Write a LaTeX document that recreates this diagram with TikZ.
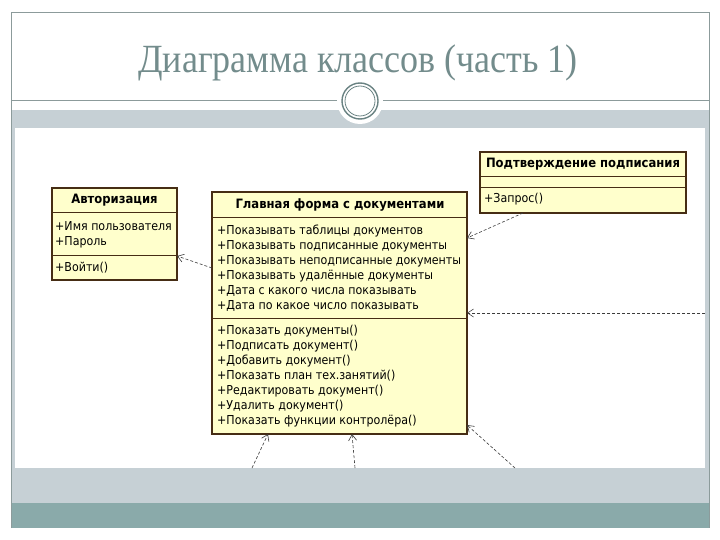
\documentclass[tikz,border=0pt]{standalone}
\usepackage{fontspec}
\setmainfont{DejaVu Sans Condensed}
\newfontfamily\titlefont{Liberation Serif}
\usetikzlibrary{arrows.meta}
\definecolor{clsfill}{RGB}{255,255,204}
\definecolor{clsline}{RGB}{70,45,20}
\definecolor{bandgray}{RGB}{198,208,213}
\definecolor{bandteal}{RGB}{138,170,170}
\definecolor{framec}{RGB}{140,155,155}
\definecolor{titlec}{RGB}{115,140,140}
\definecolor{ornc}{RGB}{105,130,130}
\definecolor{depc}{RGB}{60,60,60}
\begin{document}
\begin{tikzpicture}[x=1pt,y=-1pt,
  cls/.style={draw=clsline,fill=clsfill,line width=1.1pt,rectangle,inner sep=0pt,outer sep=0pt,anchor=north west},
  sep/.style={draw=clsline,line width=0.9pt},
  hdr/.style={font=\fontsize{12.9}{14}\selectfont\bfseries,inner sep=0pt,text height=9pt,text depth=2.5pt},
  mem/.style={font=\fontsize{12.3}{14}\selectfont,inner sep=0pt,anchor=west,text height=8.5pt,text depth=2.5pt},
  dep/.style={draw=depc,line width=0.6pt,dash pattern=on 3pt off 2pt,-{Straight Barb[length=6pt,width=8pt]}}
]
\useasboundingbox (0,0) rectangle (720,540);
\fill[white] (0,0) rectangle (720,540);
% slide background
\fill[bandgray] (11,110) rectangle (709,503);
\fill[bandteal] (11,503) rectangle (709,528);
\fill[white] (15,128) rectangle (705,468);
\draw[framec,line width=0.8pt] (11,528) -- (11,12) -- (709,12) -- (709,528);
\draw[framec,line width=0.8pt] (11,100) -- (709,100);
% title
\node[font=\titlefont\fontsize{40}{44}\selectfont,text=titlec,inner sep=0pt,anchor=base] (title) at (358,73) {\scalebox{0.9}[1]{Диаграмма классов (часть 1)}};
% ornament
\node[circle,fill=white,minimum size=46pt,inner sep=0pt] (orn) at (360,101) {};
\draw[ornc,line width=1.4pt] (orn.center) circle (18pt);
\draw[ornc,line width=0.8pt] (orn.center) circle (15pt);

% class: Авторизация
\node[cls,minimum width=125pt,minimum height=92pt] (auth) at (52,188) {};
\draw[sep] ([yshift=-24pt]auth.north west) -- ([yshift=-24pt]auth.north east);
\draw[sep] ([yshift=-67pt]auth.north west) -- ([yshift=-67pt]auth.north east);
\node[hdr] (authh) at (114.5,200) {Авторизация};
\node[mem] (a1) at (55,227) {+Имя пользователя};
\node[mem] (a2) at (55,242) {+Пароль};
\node[mem] (a3) at (55,268) {+Войти()};

% class: Главная форма
\node[cls,minimum width=255pt,minimum height=242pt] (main) at (212,192) {};
\draw[sep] ([yshift=-25pt]main.north west) -- ([yshift=-25pt]main.north east);
\draw[sep] ([yshift=-126pt]main.north west) -- ([yshift=-126pt]main.north east);
\node[hdr] (mainh) at (340,205) {Главная форма с документами};
\node[mem] (m1) at (217,231) {+Показывать таблицы документов};
\node[mem] (m2) at (217,246) {+Показывать подписанные документы};
\node[mem] (m3) at (217,261) {+Показывать неподписанные документы};
\node[mem] (m4) at (217,276) {+Показывать удалённые документы};
\node[mem] (m5) at (217,291) {+Дата с какого числа показывать};
\node[mem] (m6) at (217,306) {+Дата по какое число показывать};
\node[mem] (o1) at (217,331) {+Показать документы()};
\node[mem] (o2) at (217,346) {+Подписать документ()};
\node[mem] (o3) at (217,361) {+Добавить документ()};
\node[mem] (o4) at (217,376) {+Показать план тех.занятий()};
\node[mem] (o5) at (217,391) {+Редактировать документ()};
\node[mem] (o6) at (217,406) {+Удалить документ()};
\node[mem] (o7) at (217,421) {+Показать функции контролёра()};

% class: Подтверждение подписания
\node[cls,minimum width=206pt,minimum height=61pt] (conf) at (480,152) {};
\draw[sep] ([yshift=-24pt]conf.north west) -- ([yshift=-24pt]conf.north east);
\draw[sep] ([yshift=-35pt]conf.north west) -- ([yshift=-35pt]conf.north east);
\node[hdr] (confh) at (583,164) {Подтверждение подписания};
\node[mem] (c1) at (484,200) {+Запрос()};

% free ends
\coordinate (e1) at (705,313);
\coordinate (e2) at (252,468);
\coordinate (e3) at (355,468);
\coordinate (e4) at (515,468);

% dependencies
\draw[dep] ([yshift=-76pt]main.north west) -- ([yshift=-68pt]auth.north east);
\draw[dep] ([xshift=43pt]conf.south west) -- ([yshift=-46pt]main.north east);
\draw[dep] (e1) -- ([yshift=-121pt]main.north east);
\draw[dep] (e2) -- ([xshift=56pt]main.south west);
\draw[dep] (e3) -- ([xshift=140pt]main.south west);
\draw[dep] (e4) -- ([yshift=9pt]main.south east);
\end{tikzpicture}
\end{document}
